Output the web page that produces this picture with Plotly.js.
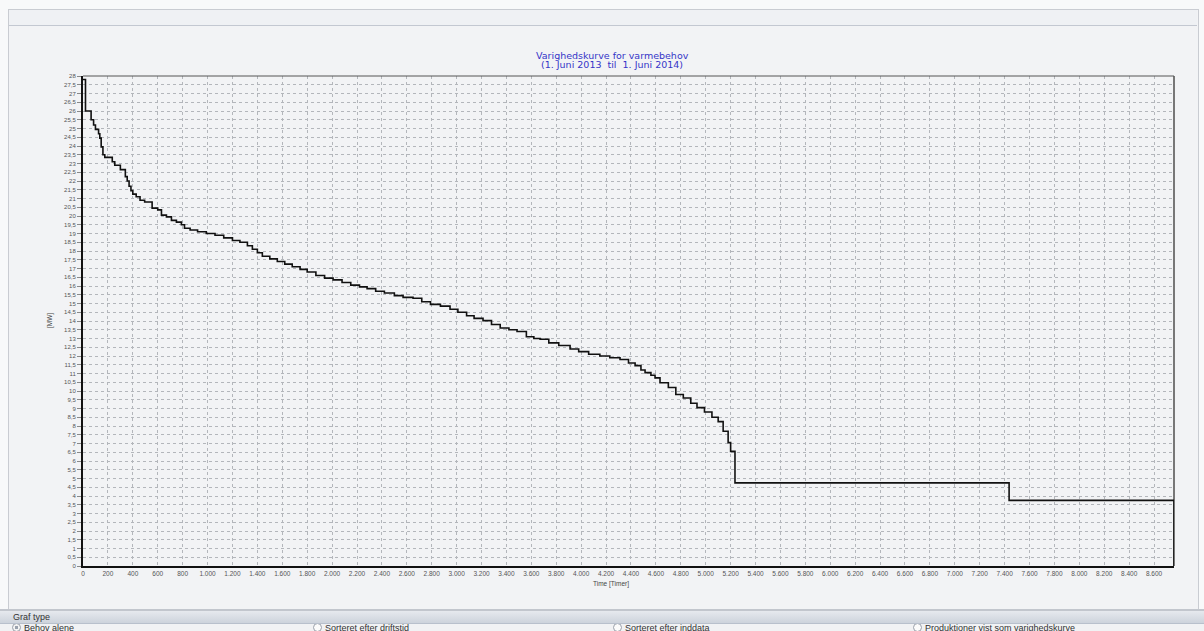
<!DOCTYPE html>
<html>
<head>
<meta charset="utf-8">
<script src="https://cdn.plot.ly/plotly-3.0.1.min.js"></script>
<style>
  html, body { margin:0; padding:0; width:1204px; height:631px; overflow:hidden; background:#f8f9fa; font-family:"Liberation Sans", Arial, sans-serif; }
  #frame { position:absolute; left:8px; top:9px; width:1189px; height:601px; background:#f2f3f5; border-left:1px solid #c9ccd2; border-top:1px solid #c9ccd2; border-right:1px solid #c9ccd2; }
  #hdr { position:absolute; left:9px; top:10px; width:1188px; height:15px; background:#eff1f4; border-bottom:1px solid #c3c8d1; }
  #botline { position:absolute; left:0; top:609px; width:1204px; height:2px; background:#c2c6cd; }
  #grafbar { position:absolute; left:0; top:611px; width:1204px; height:12px; background:linear-gradient(#e6e9ee,#cdd3dc); border-bottom:1px solid #b8c0cc; font-size:9px; color:#333; line-height:12px; }
  #grafbar span { position:absolute; left:13px; top:0; }
  #radios { position:absolute; left:0; top:624px; width:1204px; height:7px; background:#f1f2f4; overflow:hidden; }
  .r { position:absolute; top:-1px; font-size:9px; color:#333; white-space:nowrap; line-height:10px; }
  .r i { display:inline-block; width:7px; height:7px; border:1px solid #9aa0aa; border-radius:50%; background:#fbfbfb; margin-right:3px; vertical-align:-1px; }
  .r i.on { background:radial-gradient(#9aa2ae 35%, #f3f3f3 40%); }
  #plot { position:absolute; left:0; top:0; width:1204px; height:631px; }
</style>
</head>
<body>
<div id="frame"></div>
<div id="hdr"></div>
<div id="botline"></div>
<div id="grafbar"><span>Graf type</span></div>
<div id="radios">
  <div class="r" style="left:12px"><i class="on"></i>Behov alene</div>
  <div class="r" style="left:313px"><i></i>Sorteret efter driftstid</div>
  <div class="r" style="left:613px"><i></i>Sorteret efter inddata</div>
  <div class="r" style="left:913px"><i></i>Produktioner vist som varighedskurve</div>
</div>
<div id="plot"></div>
<script>
// Duration curve: start hour of each step and its level (MW)
const hours = [0, 20, 65, 85, 100, 125, 135, 146, 160, 175, 235, 255, 300, 340, 355, 370, 385, 400, 427, 458, 495, 555, 600, 630, 670, 710, 750, 790, 815, 860, 920, 990, 1060, 1130, 1200, 1260, 1320, 1360, 1400, 1440, 1500, 1560, 1620, 1680, 1743, 1800, 1870, 1940, 2008, 2080, 2150, 2220, 2281, 2350, 2420, 2500, 2570, 2650, 2720, 2790, 2870, 2947, 3010, 3080, 3140, 3212, 3280, 3350, 3420, 3485, 3560, 3620, 3670, 3740, 3820, 3911, 3980, 4060, 4150, 4230, 4312, 4380, 4433, 4480, 4513, 4560, 4593, 4633, 4700, 4760, 4820, 4880, 4930, 4990, 5050, 5100, 5140, 5180, 5200, 5235, 7436, 8760];
const mw = [27.8, 26.0, 25.5, 25.2, 24.95, 24.7, 24.45, 23.95, 23.5, 23.35, 23.1, 22.9, 22.65, 22.25, 22.0, 21.7, 21.45, 21.25, 21.1, 20.9, 20.8, 20.45, 20.35, 20.05, 19.95, 19.75, 19.65, 19.5, 19.3, 19.2, 19.1, 19.0, 18.9, 18.75, 18.6, 18.5, 18.3, 18.1, 17.9, 17.7, 17.55, 17.4, 17.25, 17.1, 16.95, 16.8, 16.6, 16.45, 16.35, 16.2, 16.05, 15.95, 15.85, 15.7, 15.6, 15.45, 15.35, 15.3, 15.1, 14.95, 14.85, 14.67, 14.5, 14.3, 14.15, 14.02, 13.8, 13.6, 13.5, 13.4, 13.1, 13.0, 12.96, 12.75, 12.6, 12.4, 12.25, 12.1, 12.0, 11.9, 11.8, 11.6, 11.45, 11.2, 11.05, 10.9, 10.75, 10.47, 10.2, 9.8, 9.6, 9.3, 9.05, 8.8, 8.5, 8.25, 7.7, 7.05, 6.55, 4.75, 3.75, 0];

const titleLine1 = "Varighedskurve for varmebehov";
const titleLine2 = "(1. Juni 2013  til  1. Juni 2014)";
const xTitle = "Time [Timer]";
const yTitle = "[MW]";
const xMax = 8760, yMax = 28;

const trace = {
  x: hours, y: mw, type: 'scatter', mode: 'lines',
  line: {shape: 'hv', color: '#111111', width: 1.6},
  hoverinfo: 'x+y', cliponaxis: false
};

const tickFont = {family: 'Liberation Sans, Arial, sans-serif', size: 6.5, color: '#555'};
const layout = {
  width: 1204, height: 631,
  paper_bgcolor: 'rgba(0,0,0,0)', plot_bgcolor: '#f2f3f5',
  margin: {l: 83, r: 30, t: 76, b: 65, pad: 0},
  separators: ',.',
  showlegend: false,
  xaxis: {
    range: [0, xMax], dtick: 200, tick0: 0, separatethousands: true,
    showgrid: true, gridcolor: '#b3b6bb', griddash: 'dot', gridwidth: 1,
    zeroline: false, showline: true, linecolor: '#111', linewidth: 2,
    ticks: '', tickfont: tickFont, fixedrange: true
  },
  yaxis: {
    range: [0, yMax], dtick: 0.5, tick0: 0,
    showgrid: true, gridcolor: '#b3b6bb', griddash: 'dot', gridwidth: 1,
    zeroline: false, showline: true, linecolor: '#111', linewidth: 2,
    ticks: 'outside', ticklen: 4, tickcolor: '#888', tickwidth: 1,
    tickfont: {family: 'Liberation Sans, Arial, sans-serif', size: 6, color: '#555'}, fixedrange: true
  },
  shapes: [
    {type: 'line', xref: 'paper', yref: 'paper', x0: 0, x1: 1, y0: 1, y1: 1, line: {color: '#555', width: 1}},
    {type: 'line', xref: 'paper', yref: 'paper', x0: 1, x1: 1, y0: 0, y1: 1, layer: 'below', line: {color: '#777', width: 2}}
  ],
  annotations: [
    {text: titleLine1, xref: 'paper', yref: 'paper', x: 0.485, y: 1, yanchor: 'middle', xanchor: 'center', yshift: 21, showarrow: false,
     font: {family: 'DejaVu Sans, sans-serif', size: 9.5, color: '#3535c8'}},
    {text: titleLine2, xref: 'paper', yref: 'paper', x: 0.485, y: 1, yanchor: 'middle', xanchor: 'center', yshift: 12, showarrow: false,
     font: {family: 'DejaVu Sans, sans-serif', size: 9.5, color: '#3535c8'}},
    {text: xTitle, xref: 'paper', yref: 'paper', x: 0.484, y: 0, yanchor: 'middle', xanchor: 'center', yshift: -18, showarrow: false,
     font: {family: 'Liberation Sans, Arial, sans-serif', size: 6.5, color: '#444'}},
    {text: yTitle, xref: 'paper', yref: 'paper', x: 0, xanchor: 'center', yanchor: 'middle', xshift: -33, y: 0.5, textangle: -90, showarrow: false,
     font: {family: 'Liberation Sans, Arial, sans-serif', size: 6.5, color: '#444'}}
  ]
};

Plotly.newPlot('plot', [trace], layout, {displayModeBar: false, staticPlot: true});
</script>
</body>
</html>
